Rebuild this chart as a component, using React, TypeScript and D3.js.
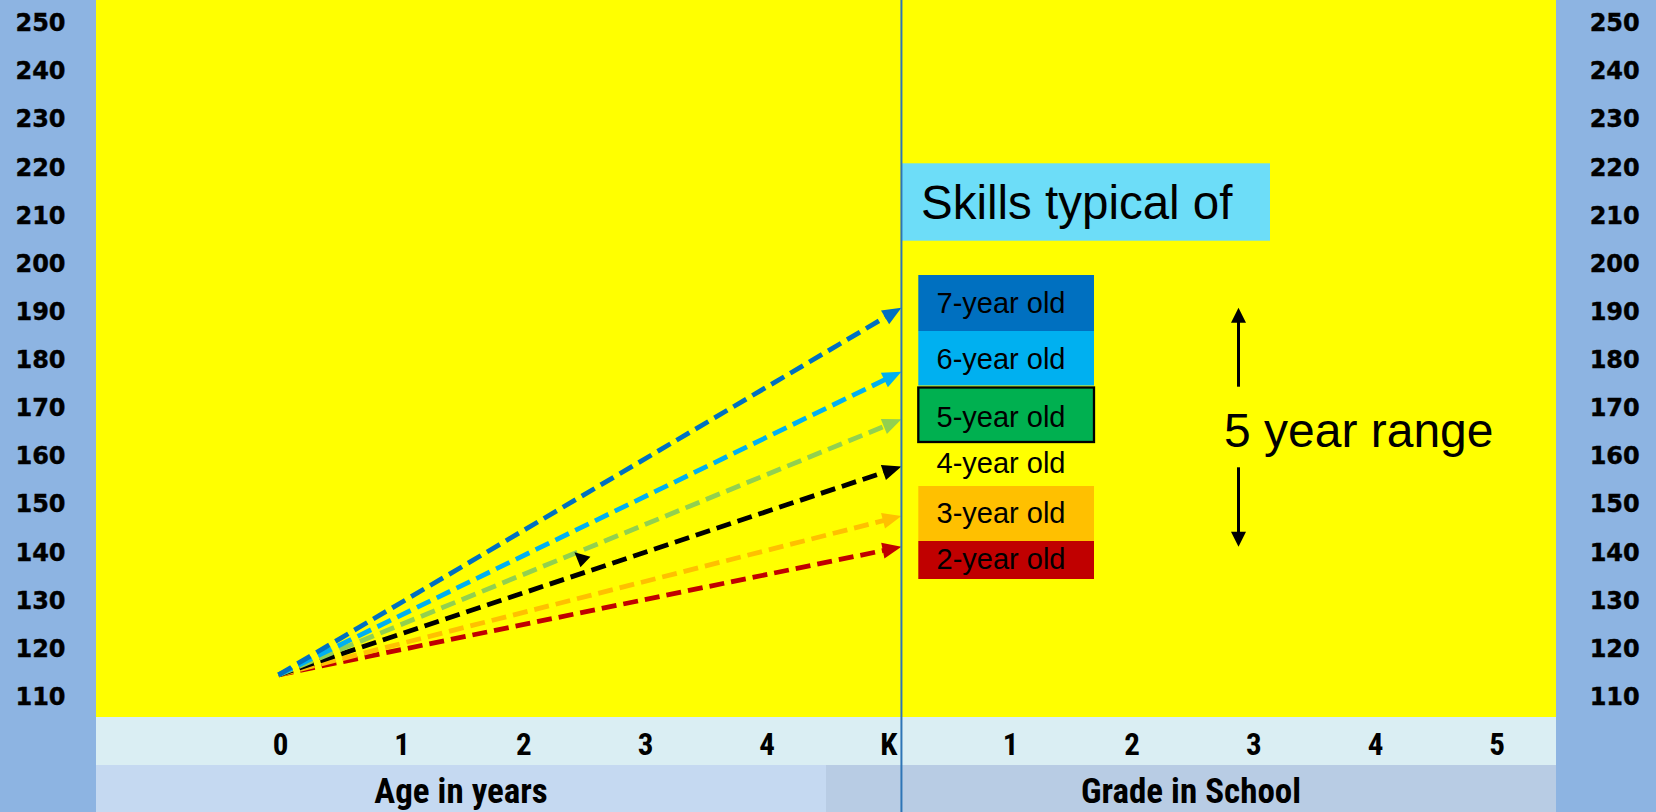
import React from "react";
import * as d3 from "d3";

// ---------- data ----------
const categories = ["", "0", "1", "2", "3", "4", "K", "1", "2", "3", "4", "5"];
const yTickValues = [250, 240, 230, 220, 210, 200, 190, 180, 170, 160, 150, 140, 130, 120, 110];
const sectionTitles = ["Age in years", "Grade in School"];

const arrowColors = ["#0070C0", "#00B0F0", "#92D050", "#000000", "#FFC000", "#C00000"];
const arrowStartValue = 114.6;
const arrowStartCategory = 1; // "0"
const arrowEndPosition = 6.62; // in category units (at divider)
const arrowEndValues = [190.9, 177.6, 167.7, 157.9, 147.6, 141.2];

const strayArrowPosition = 3.99;
const strayArrowValue = 138.7;

const legendLabels = ["7-year old", "6-year old", "5-year old", "4-year old", "3-year old", "2-year old"];
const legendFills = ["#0070C0", "#00B0F0", "#00B050", "none", "#FFC000", "#C00000"];
const legendBorders = ["none", "none", "#000000", "none", "none", "none"];
const legendTitle = "Skills typical of";
const rangeLabel = "5 year range";
const rangeTop = 190.9;
const rangeBottom = 141.2;

// ---------- layout ----------
const W = 1656;
const H = 812;
const plotLeft = 96;
const plotRight = 1556;
const plotBottom = 717;
const tickRowBottom = 765;

export default function App() {
  const x = d3
    .scaleBand<number>()
    .domain(categories.map((_, i) => i))
    .range([plotLeft, plotRight]);
  const xLin = d3.scaleLinear().domain([0, categories.length]).range([plotLeft, plotRight]);
  const y = d3.scaleLinear().domain([110, 250]).range([697, 23.2]);
  const bw = x.bandwidth();
  const midX = x(6)!; // boundary between age and grade sections

  const dividerX = xLin(arrowEndPosition);

  const arrowHead = (x1: number, y1: number, x2: number, y2: number, len: number, half: number) => {
    const dx = x2 - x1;
    const dy = y2 - y1;
    const L = Math.hypot(dx, dy);
    const ux = dx / L;
    const uy = dy / L;
    const bx = x2 - ux * len;
    const by = y2 - uy * len;
    const px = -uy;
    const py = ux;
    return `M${x2},${y2}L${bx + px * half},${by + py * half}L${bx - px * half},${by - py * half}Z`;
  };

  const sx = x(arrowStartCategory)! + bw / 2;
  const sy = y(arrowStartValue);

  const legendBoxes = [
    { y0: 275, y1: 331, base: 313.3 },
    { y0: 331, y1: 385.5, base: 369.3 },
    { y0: 387.5, y1: 442, base: 426.7 },
    { y0: 444, y1: 484, base: 472.7 },
    { y0: 486, y1: 541, base: 523.3 },
    { y0: 541, y1: 579, base: 569.3 },
  ];

  const rx = 1238.5;
  const upTip = y(rangeTop);
  const downTip = y(rangeBottom);

  const condensed = "'Liberation Sans Narrow', 'Arial Narrow', 'Roboto Condensed', Roboto, sans-serif";

  const strayX = xLin(strayArrowPosition);
  const strayY = y(strayArrowValue);

  return (
    <svg
      width={W}
      height={H}
      style={{ position: "absolute", left: 0, top: 0, display: "block" }}
      xmlns="http://www.w3.org/2000/svg"
    >
      {/* side panels */}
      <rect x={0} y={0} width={W} height={H} fill="#8DB4E2" />
      {/* plot area */}
      <rect x={plotLeft} y={0} width={plotRight - plotLeft} height={plotBottom} fill="#FFFF00" />
      <rect x={plotLeft} y={plotBottom} width={plotRight - plotLeft} height={tickRowBottom - plotBottom} fill="#DAEEF3" />
      <rect x={plotLeft} y={tickRowBottom} width={midX - plotLeft} height={H - tickRowBottom} fill="#C5D9F1" />
      <rect x={midX} y={tickRowBottom} width={plotRight - midX} height={H - tickRowBottom} fill="#B8CCE4" />

      {/* y labels both sides */}
      {yTickValues.map((v) => (
        <g key={v}>
          <text
            x={40.5}
            y={y(v)}
            textAnchor="middle"
            dominantBaseline="central"
            fontFamily="'DejaVu Sans', sans-serif"
            fontWeight="bold"
            fontSize={24}
            stroke="#000"
            strokeWidth={0.4}
            fill="#000"
          >
            {v}
          </text>
          <text
            x={1614.7}
            y={y(v)}
            textAnchor="middle"
            dominantBaseline="central"
            fontFamily="'DejaVu Sans', sans-serif"
            fontWeight="bold"
            fontSize={24}
            stroke="#000"
            strokeWidth={0.4}
            fill="#000"
          >
            {v}
          </text>
        </g>
      ))}

      {/* category labels */}
      {categories.map((c, i) => (
        <text
          key={i}
          x={x(i)! + bw / 2 + 2}
          y={755}
          textAnchor="middle"
          fontFamily={condensed}
          fontWeight="bold"
          fontSize={31}
          fill="#000"
        >
          {c}
        </text>
      ))}

      {/* section titles */}
      <text x={(plotLeft + midX) / 2} y={803} textAnchor="middle" fontFamily={condensed} fontWeight="bold" fontSize={35} fill="#000">
        {sectionTitles[0]}
      </text>
      <text x={(midX + plotRight) / 2} y={803} textAnchor="middle" fontFamily={condensed} fontWeight="bold" fontSize={35} fill="#000">
        {sectionTitles[1]}
      </text>

      {/* dashed arrows */}
      {arrowEndValues
        .map((v, i) => ({ v, i }))
        .reverse()
        .map(({ v, i }) => {
          const ex = dividerX;
          const ey = y(v);
          const L = Math.hypot(ex - sx, ey - sy);
          const cut = 12;
          const lx = ex - ((ex - sx) / L) * cut;
          const ly = ey - ((ey - sy) / L) * cut;
          return (
            <g key={i}>
              <line
                x1={sx}
                y1={sy}
                x2={lx}
                y2={ly}
                stroke={arrowColors[i]}
                strokeWidth={4.8}
                strokeDasharray="15 7"
                strokeLinecap="butt"
              />
              <path d={arrowHead(sx, sy, ex, ey, 19, 8)} fill={arrowColors[i]} />
            </g>
          );
        })}

      {/* stray black arrowhead */}
      <path
        d={`M${strayX - 7},${strayY - 6.5}L${strayX + 9},${strayY - 2}L${strayX - 1},${strayY + 8.5}Z`}
        fill="#000"
      />

      {/* legend title */}
      <rect x={901.7} y={163.3} width={1270 - 901.7} height={240.7 - 163.3} fill="#6DDDF8" />
      <text x={921} y={219.3} fontFamily="'Liberation Sans', Arial, sans-serif" fontSize={47.5} fill="#000">
        {legendTitle}
      </text>

      {/* legend boxes */}
      {legendLabels.map((lab, i) => (
        <g key={lab}>
          {legendFills[i] !== "none" && (
            <rect
              x={918.3}
              y={legendBoxes[i].y0}
              width={1094 - 918.3}
              height={legendBoxes[i].y1 - legendBoxes[i].y0}
              fill={legendFills[i]}
              stroke={legendBorders[i] === "none" ? "none" : legendBorders[i]}
              strokeWidth={2.3}
            />
          )}
          <text
            x={936.5}
            y={legendBoxes[i].base}
            fontFamily="'Liberation Sans', Arial, sans-serif"
            fontSize={29}
            fill="#000"
          >
            {lab}
          </text>
        </g>
      ))}

      {/* 5 year range */}
      <line x1={rx} y1={386.7} x2={rx} y2={upTip + 14} stroke="#000" strokeWidth={3} />
      <path d={`M${rx},${upTip}L${rx - 7.5},${upTip + 15}L${rx + 7.5},${upTip + 15}Z`} fill="#000" />
      <line x1={rx} y1={467.3} x2={rx} y2={downTip - 14} stroke="#000" strokeWidth={3} />
      <path d={`M${rx},${downTip}L${rx - 7.5},${downTip - 15}L${rx + 7.5},${downTip - 15}Z`} fill="#000" />
      <text x={1224} y={446.7} fontFamily="'Liberation Sans', Arial, sans-serif" fontSize={48} fill="#000">
        {rangeLabel}
      </text>

      {/* divider line */}
      <line x1={dividerX} y1={0} x2={dividerX} y2={H} stroke="#2E75B6" strokeWidth={2} />
    </svg>
  );
}
